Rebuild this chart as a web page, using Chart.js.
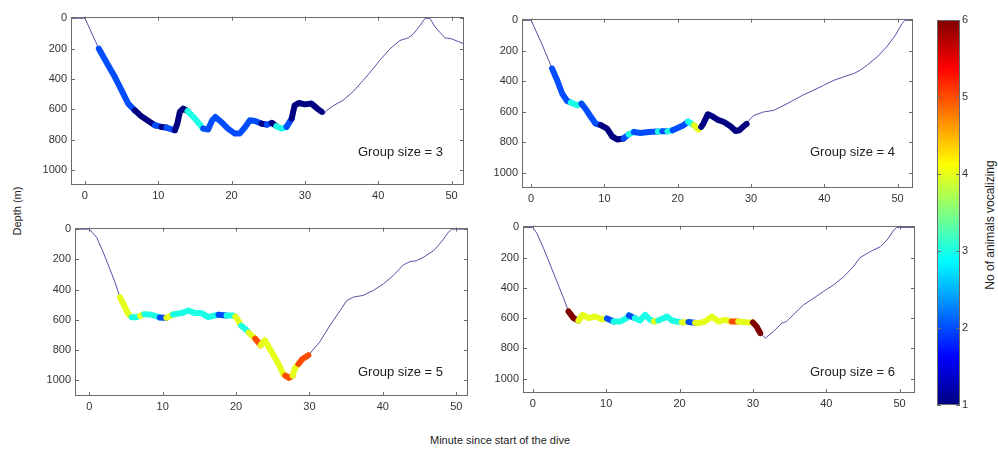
<!DOCTYPE html>
<html lang="en">
<head>
<meta charset="UTF-8">
<title>Dive profiles by group size</title>
<script src="https://cdn.jsdelivr.net/npm/chart.js@4"></script>
<style>
  body { margin: 0; background: #fff; }
  #wrap { position: relative; width: 998px; height: 455px; font-family: "Liberation Sans", Arial, sans-serif; }
  #wrap canvas { position: absolute; }
  .lbl { position: absolute; color: #222; white-space: nowrap; line-height: 15px; }
  .rot { transform: translate(-50%, -50%) rotate(-90deg); }
  .ctr { transform: translate(-50%, -50%); }
</style>
</head>
<body>
<div id="wrap">
  <canvas id="c3"></canvas>
  <canvas id="c4"></canvas>
  <canvas id="c5"></canvas>
  <canvas id="c6"></canvas>
  <canvas id="cbar"></canvas>

  <div class="lbl" style="left:358px; top:144px; font-size:13px;">Group size = 3</div>
  <div class="lbl" style="left:810px; top:144px; font-size:13px;">Group size = 4</div>
  <div class="lbl" style="left:358px; top:364px; font-size:13px;">Group size = 5</div>
  <div class="lbl" style="left:810px; top:364px; font-size:13px;">Group size = 6</div>
  <div class="lbl rot" style="left:17px; top:211px; font-size:11px;">Depth (m)</div>
  <div class="lbl ctr" style="left:500px; top:440px; font-size:11px;">Minute since start of the dive</div>
  <div class="lbl rot" style="left:990px; top:225px; font-size:12px;">No of animals vocalizing</div>
</div>

<script>
// tick labels
const minuteTicks = [0, 10, 20, 30, 40, 50];
const depthTicks = [0, 200, 400, 600, 800, 1000];
const countTicks = [1, 2, 3, 4, 5, 6];

// group size 3 : minute, depth (m), animals vocalizing (0 = silent)
const time3 = [-1.9, 0, 1.9, 3.18, 4.09, 5.0, 5.9, 6.8, 7.7, 8.86, 9.55, 10.45, 11.1, 12.27, 12.6, 12.95, 13.4, 14.0, 15.0, 16.13,
  16.8, 17.36, 17.8, 18.6, 19.5, 20.45, 21.1, 21.8, 22.5, 23.2, 24.1, 24.8, 25.5, 26.1, 26.8, 27.5, 28.2, 28.6, 29.2, 30.0,
  30.9, 31.7, 32.3, 32.6, 33.0, 34.1, 35.2, 36.6, 37.95, 39.3, 40.2, 41.6, 42.95, 44.1, 44.8, 45.7, 46.4, 47.05, 47.7, 48.4,
  49.1, 50.0, 50.9, 51.7];
const depth3 = [0, 0, 201, 311, 388, 476, 563, 607, 647, 684, 706, 717, 721, 739, 695, 618, 596, 612, 662, 728,
  734, 673, 651, 684, 728, 761, 761, 721, 673, 678, 695, 702, 691, 712, 728, 717, 662, 575, 559, 568,
  563, 596, 618, 634, 607, 570, 542, 482, 410, 333, 278, 202, 147, 129, 103, 48, 0, 0, 53, 92,
  129, 136, 153, 169];
const calls3 = [0, 0, 2, 2, 2, 2, 2, 1, 1, 1, 2, 1, 2, 1, 1, 1, 1, 3, 3, 2,
  2, 2, 2, 2, 2, 2, 2, 2, 2, 2, 1, 2, 1, 3, 3, 2, 1, 1, 1, 1,
  1, 1, 0, 0, 0, 0, 0, 0, 0, 0, 0, 0, 0, 0, 0, 0, 0, 0, 0, 0,
  0, 0, 0, 0];

// group size 4
const time4 = [-1.3, 0, 1.5, 2.86, 3.55, 4.23, 4.91, 5.4, 6.27, 6.86, 7.4, 8.09, 8.77, 9.5, 10.36, 11.05, 11.73, 12.6, 13.3, 14.0,
  14.9, 16.04, 17.3, 17.9, 18.6, 19.3, 20.8, 21.4, 22.2, 22.8, 23.2, 23.5, 24.1, 24.7, 25.4, 26.3, 27.2, 27.9, 28.4, 29.0,
  29.4, 29.7, 30.4, 31.7, 33.1, 34.5, 35.8, 37.2, 38.5, 39.9, 41.3, 42.6, 44.0, 44.9, 45.8, 47.2, 48.5, 49.7, 50.6, 51.0,
  52.1];
const depth4 = [0, 0, 160, 317, 394, 481, 530, 540, 558, 547, 580, 630, 678, 688, 711, 762, 783, 776, 749, 733,
  740, 733, 730, 729, 729, 722, 689, 665, 689, 718, 700, 678, 617, 630, 652, 668, 696, 727, 722, 696,
  680, 657, 624, 602, 591, 558, 525, 488, 460, 427, 394, 372, 350, 328, 296, 241, 175, 98, 22, 0,
  0];
const calls4 = [0, 0, 0, 2, 2, 2, 2, 3, 3, 2, 2, 2, 2, 1, 1, 1, 1, 2, 3, 2,
  2, 2, 3, 2, 3, 2, 2, 3, 4, 4, 1, 1, 1, 1, 1, 1, 1, 1, 1, 1,
  0, 0, 0, 0, 0, 0, 0, 0, 0, 0, 0, 0, 0, 0, 0, 0, 0, 0, 0, 0,
  0];

// group size 5
const time5 = [-1.95, 0, 1.0, 1.9, 2.8, 3.5, 4.18, 4.86, 5.3, 5.77, 6.45, 6.9, 7.5, 8.5, 9.6, 10.5, 11.4, 12.6, 13.5, 14.4,
  15.3, 16.2, 17.1, 17.6, 18.7, 19.6, 19.9, 20.3, 20.7, 21.45, 21.7, 22.6, 23.35, 23.9, 24.85, 25.75, 26.4, 26.7, 27.2, 27.7,
  28.0, 28.5, 29.0, 29.85, 31.4, 32.8, 34.2, 35.1, 36.0, 37.3, 38.7, 40.1, 41.4, 42.8, 43.7, 44.6, 45.5, 46.9, 48.0, 48.9,
  49.4, 51.6];
const depth5 = [0, 0, 55, 154, 264, 352, 451, 517, 561, 583, 583, 575, 563, 567, 585, 588, 565, 556, 539, 556,
  556, 583, 572, 567, 572, 572, 580, 605, 640, 670, 685, 725, 769, 736, 813, 890, 956, 970, 985, 970,
  923, 893, 862, 835, 747, 637, 538, 472, 450, 439, 406, 362, 308, 237, 215, 209, 187, 143, 83, 22,
  0, 0];
const calls5 = [0, 0, 0, 0, 0, 0, 4, 4, 4, 3, 3, 4, 3, 3, 2, 4, 3, 3, 3, 3,
  3, 3, 3, 2, 3, 3, 4, 4, 3, 3, 4, 5, 4, 4, 4, 4, 4, 5, 5, 4,
  4, 5, 5, 0, 0, 0, 0, 0, 0, 0, 0, 0, 0, 0, 0, 0, 0, 0, 0, 0,
  0, 0];

// group size 6
const time6 = [-1.35, 0, 0.55, 1.45, 2.36, 3.27, 4.18, 4.86, 5.54, 6.2, 6.8, 7.6, 8.5, 9.4, 10.1, 11.0, 11.9, 12.8, 13.1, 13.9,
  14.6, 15.3, 16.0, 16.5, 17.1, 18.3, 18.95, 19.6, 20.3, 21.2, 22.1, 22.6, 23.5, 24.4, 25.3, 26.2, 27.1, 28.0, 29.2, 30.0,
  30.5, 31.0, 31.7, 32.8, 33.95, 34.6, 35.5, 36.9, 38.3, 39.6, 41.0, 42.4, 43.7, 44.6, 46.0, 47.4, 48.3, 49.2, 49.6, 52.1];
const depth6 = [0, 0, 40, 138, 248, 358, 468, 556, 600, 616, 578, 600, 589, 607, 602, 622, 622, 600, 582, 600,
  616, 578, 611, 622, 615, 589, 616, 622, 628, 625, 630, 633, 622, 589, 622, 611, 622, 622, 629, 629,
  655, 699, 732, 688, 633, 622, 578, 512, 468, 424, 380, 325, 259, 200, 160, 127, 83, 18, 0, 0];
const calls6 = [0, 0, 0, 0, 0, 0, 0, 6, 6, 4, 4, 4, 4, 4, 2, 3, 3, 3, 2, 3,
  3, 3, 3, 4, 3, 3, 3, 3, 4, 2, 4, 4, 4, 4, 4, 4, 5, 4, 4, 6,
  6, 0, 0, 0, 0, 0, 0, 0, 0, 0, 0, 0, 0, 0, 0, 0, 0, 0, 0, 0];

// plot boxes in page pixels and axis limits
const panels = [
  { id: 'c3', t: time3, d: depth3, n: calls3, box: [71, 16, 464, 185], x: [-1.9, 51.7], y: [-11, 1100] },
  { id: 'c4', t: time4, d: depth4, n: calls4, box: [522, 18, 913, 188], x: [-1.25, 52.1], y: [-11, 1101] },
  { id: 'c5', t: time5, d: depth5, n: calls5, box: [75, 227, 468, 396], x: [-1.95, 51.6], y: [-10, 1105] },
  { id: 'c6', t: time6, d: depth6, n: calls6, box: [523, 225, 915, 393], x: [-1.35, 52.1], y: [-12, 1095] }
];

const PADL = 45, PADT = 10, PADR = 10, PADB = 22;
const tickFont = { family: '"Liberation Sans", Arial, sans-serif', size: 11 };
const frameColor = '#6a6a6a';

function jet(v) {
  const t = (v - 1) / 5;
  const f = k => Math.round(255 * Math.max(0, Math.min(1, 1.5 - Math.abs(4 * t - k))));
  return 'rgb(' + f(3) + ',' + f(2) + ',' + f(1) + ')';
}

// box with inward ticks on all four sides, like matlab
const boxPlugin = {
  id: 'box',
  afterDraw(chart) {
    const { ctx, chartArea: a, scales } = chart;
    ctx.save();
    ctx.strokeStyle = frameColor;
    ctx.lineWidth = 1;
    ctx.strokeRect(Math.round(a.left) + 0.5, Math.round(a.top) + 0.5,
      Math.round(a.right - a.left) - 1, Math.round(a.bottom - a.top) - 1);
    ctx.beginPath();
    const tl = 4;
    if (scales.x && scales.x.options.display) {
      scales.x.ticks.forEach(tk => {
        const px = Math.round(scales.x.getPixelForValue(tk.value)) + 0.5;
        ctx.moveTo(px, a.bottom); ctx.lineTo(px, a.bottom - tl);
        ctx.moveTo(px, a.top); ctx.lineTo(px, a.top + tl);
      });
    }
    scales.y.ticks.forEach(tk => {
      const py = Math.round(scales.y.getPixelForValue(tk.value)) + 0.5;
      ctx.moveTo(a.left, py); ctx.lineTo(a.left + tl, py);
      ctx.moveTo(a.right, py); ctx.lineTo(a.right - tl, py);
    });
    ctx.stroke();
    ctx.restore();
  }
};

panels.forEach(p => {
  const [l, t, r, b] = p.box;
  const cv = document.getElementById(p.id);
  const w = r - l + PADL + PADR, h = b - t + PADT + PADB;
  cv.width = w; cv.height = h;
  cv.style.left = (l - PADL) + 'px';
  cv.style.top = (t - PADT) + 'px';
  cv.style.width = w + 'px'; cv.style.height = h + 'px';

  const profile = p.t.map((x, i) => ({ x: x, y: p.d[i] }));
  const vocal = p.t.map((x, i) => ({
    x: x,
    y: (p.n[i] > 0 || (i > 0 && p.n[i - 1] > 0)) ? p.d[i] : null
  }));

  new Chart(cv, {
    type: 'line',
    data: {
      datasets: [
        {
          data: vocal,
          borderWidth: 6,
          borderColor: '#0050ff',
          borderCapStyle: 'round',
          borderJoinStyle: 'round',
          pointRadius: 0,
          spanGaps: false,
          segment: { borderColor: c => jet(p.n[c.p0DataIndex]) }
        },
        {
          data: profile,
          borderWidth: 1,
          borderColor: '#5252a8',
          pointRadius: 0
        }
      ]
    },
    options: {
      responsive: false,
      animation: false,
      events: [],
      layout: { padding: { left: 0, top: PADT, right: PADR, bottom: 0 } },
      plugins: { legend: { display: false }, tooltip: { enabled: false } },
      scales: {
        x: {
          type: 'linear', min: p.x[0], max: p.x[1],
          grid: { display: false, drawTicks: false },
          border: { display: false },
          ticks: { padding: 4, color: '#333', font: tickFont, maxRotation: 0, callback: v => String(v) },
          afterBuildTicks: s => { s.ticks = minuteTicks.map(v => ({ value: v })); },
          afterFit: s => { s.height = PADB; }
        },
        y: {
          type: 'linear', reverse: true, min: p.y[0], max: p.y[1],
          grid: { display: false, drawTicks: false },
          border: { display: false },
          ticks: { padding: 4, color: '#333', font: tickFont, callback: v => String(v) },
          afterBuildTicks: s => { s.ticks = depthTicks.map(v => ({ value: v })); },
          afterFit: s => { s.width = PADL; }
        }
      }
    },
    plugins: [boxPlugin]
  });
});

// colour bar
const cb = document.getElementById('cbar');
const CBW = 23, CBLAB = 22;
cb.width = CBW + CBLAB; cb.height = 405;
cb.style.left = '937px'; cb.style.top = '10px';
cb.style.width = cb.width + 'px'; cb.style.height = cb.height + 'px';

const jetPlugin = {
  id: 'jetfill',
  beforeDatasetsDraw(chart) {
    const { ctx, chartArea: a } = chart;
    const g = ctx.createLinearGradient(0, a.bottom, 0, a.top);
    for (let i = 0; i <= 40; i++) g.addColorStop(i / 40, jet(1 + 5 * i / 40));
    ctx.save();
    ctx.fillStyle = g;
    ctx.fillRect(a.left, a.top, a.right - a.left, a.bottom - a.top);
    ctx.restore();
  }
};

new Chart(cb, {
  type: 'scatter',
  data: { datasets: [] },
  options: {
    responsive: false,
    animation: false,
    events: [],
    layout: { padding: { left: 0, top: 10, right: 0, bottom: 10 } },
    plugins: { legend: { display: false }, tooltip: { enabled: false } },
    scales: {
      x: { display: false, min: 0, max: 1 },
      y: {
        position: 'right', min: 1, max: 6,
        grid: { display: false, drawTicks: false },
        border: { display: false },
        ticks: { padding: 2, color: '#333', font: tickFont },
        afterBuildTicks: s => { s.ticks = countTicks.map(v => ({ value: v })); },
        afterFit: s => { s.width = CBLAB; }
      }
    }
  },
  plugins: [jetPlugin, boxPlugin]
});
</script>
</body>
</html>
